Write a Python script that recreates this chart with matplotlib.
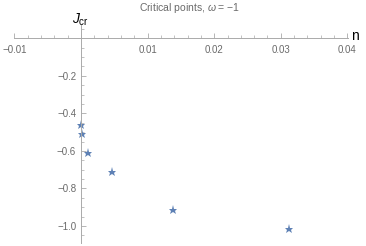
import numpy as np
import matplotlib
matplotlib.use("Agg")
import matplotlib.pyplot as plt
from matplotlib.ticker import MultipleLocator, FixedLocator

plt.rcParams["font.family"] = ["Liberation Sans", "DejaVu Sans"]
plt.rcParams["mathtext.fontset"] = "custom"
plt.rcParams["mathtext.rm"] = "Liberation Sans"
plt.rcParams["mathtext.it"] = "Liberation Sans:italic"

n = [0.0000, 0.0002, 0.0010, 0.0046, 0.0138, 0.0312]
j_cr = [-0.463, -0.510, -0.613, -0.714, -0.915, -1.014]

xticks = [-0.01, 0.01, 0.02, 0.03, 0.04]
yticks = [-0.2, -0.4, -0.6, -0.8, -1.0]

gray = "#6a6a6a"
fig = plt.figure(figsize=(3.66, 2.46), dpi=100)
ax = fig.add_axes([13.8 / 366, 1 - 243 / 246, (348 - 13.8) / 366, (243 - 25) / 246])

ax.plot(n, j_cr, linestyle="none", marker="*", markersize=6.5,
        color="#5E81B5", markeredgewidth=0)

ax.set_xlim(-0.0101, 0.0401)
ax.set_ylim(-1.09, 0.07)

for s in ["top", "right"]:
    ax.spines[s].set_visible(False)
ax.spines["left"].set_position(("data", 0))
ax.spines["bottom"].set_position(("data", 0))
ax.spines["left"].set_color("#aaaaaa")
ax.spines["bottom"].set_color("#aaaaaa")
ax.spines["left"].set_linewidth(0.7)
ax.spines["bottom"].set_linewidth(0.7)

ax.xaxis.set_major_locator(FixedLocator(xticks))
ax.yaxis.set_major_locator(FixedLocator(yticks))
ax.xaxis.set_minor_locator(MultipleLocator(0.002))
ax.yaxis.set_minor_locator(MultipleLocator(0.05))
ax.set_yticklabels([f"{v:.1f}".replace("-", "\u2212") for v in yticks])
ax.set_xticklabels([f"{v:g}".replace("-", "\u2212") for v in xticks])
ax.tick_params(which="both", direction="in", colors="#aaaaaa", labelcolor=gray,
               labelsize=7)
ax.tick_params(which="major", length=3.5, width=0.6)
ax.tick_params(which="minor", length=2, width=0.5)
ax.tick_params(axis="x", pad=5)

fig.text(190 / 366, 1 - 8 / 246, "Critical points, $\\omega$ = \u22121",
         ha="center", va="center", fontsize=7.5, color=gray)
fig.text(80 / 366, 1 - 20 / 246, "$J_{\\mathrm{cr}}$", ha="center",
         va="center", fontsize=10, color="black")
fig.text(355 / 366, 1 - 36 / 246, "n", ha="center", va="center",
         fontsize=10, color="black")

fig.savefig("out.png", dpi=100)
